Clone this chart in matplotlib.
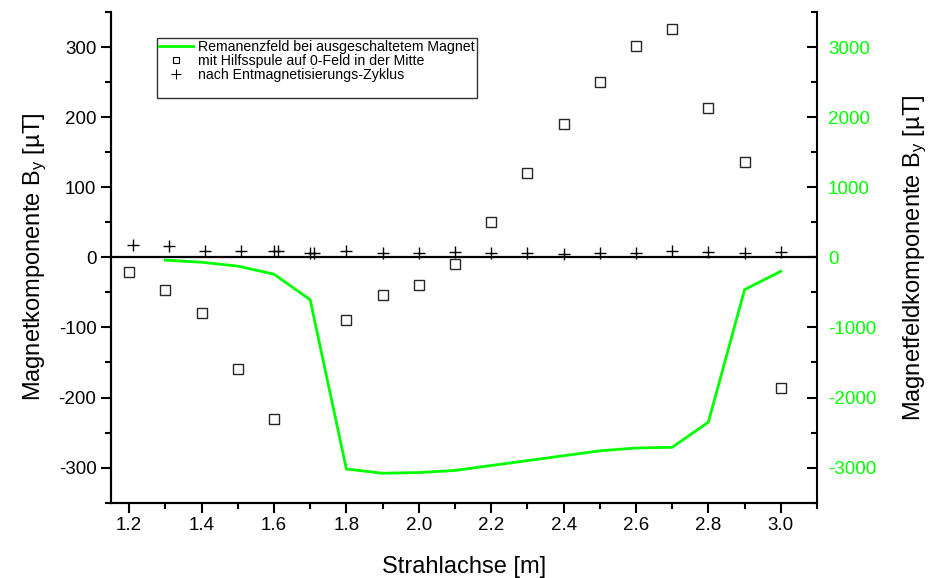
import matplotlib
matplotlib.use("Agg")
import matplotlib.pyplot as plt
from matplotlib.ticker import MultipleLocator
from matplotlib.lines import Line2D

plt.rcParams["font.family"] = ["Liberation Sans", "DejaVu Sans"]
plt.rcParams["mathtext.default"] = "regular"
plt.rcParams["axes.unicode_minus"] = False

# Remanenzfeld bei ausgeschaltetem Magnet (right axis, uT)
rem_x = [1.3, 1.4, 1.5, 1.6, 1.7, 1.8, 1.9, 2.0, 2.1, 2.2, 2.3, 2.4, 2.5, 2.6, 2.7, 2.8, 2.9, 3.0]
rem_y = [-40, -70, -125, -240, -605, -3020, -3080, -3070, -3040, -2970, -2900, -2830,
         -2760, -2720, -2710, -2350, -460, -200]

# mit Hilfsspule auf 0-Feld in der Mitte (left axis, uT)
hs_x = [1.2, 1.3, 1.4, 1.5, 1.6, 1.8, 1.9, 2.0, 2.1, 2.2, 2.3, 2.4, 2.5, 2.6, 2.7, 2.8, 2.9, 3.0]
hs_y = [-21, -47, -80, -160, -230, -90, -54, -40, -10, 50, 120, 190, 250, 301, 326, 213, 136, -186]

# nach Entmagnetisierungs-Zyklus (left axis, uT)
em_x = [1.21, 1.31, 1.41, 1.51, 1.60, 1.61, 1.70, 1.71, 1.80, 1.90, 2.00, 2.10, 2.20,
        2.30, 2.40, 2.50, 2.60, 2.70, 2.80, 2.90, 3.00]
em_y = [17, 16, 9, 9, 9, 9, 6, 6, 9, 6, 6, 7, 6, 6, 5, 6, 6, 9, 7, 6, 7]

GREEN = "#00ff00"

fig = plt.figure(figsize=(9.3, 5.78), dpi=100)
ax = fig.add_axes([0.1194, 0.1303, 0.7591, 0.8490])
ax2 = ax.twinx()

ax.axhline(0, color="k", lw=1.6, zorder=1)
ax.plot(hs_x, hs_y, ls="none", marker="s", ms=7, mfc="none", mec="0.15", mew=1.0)
ax.plot(em_x, em_y, ls="none", marker="+", ms=9, mec="k", mew=1.0)
ax2.plot(rem_x, rem_y, color=GREEN, lw=2)

ax.set_xlim(1.15, 3.1)
ax.set_ylim(-350, 350)
ax2.set_ylim(-3500, 3500)

ax.xaxis.set_major_locator(MultipleLocator(0.2))
ax.xaxis.set_minor_locator(MultipleLocator(0.1))
ax.yaxis.set_major_locator(MultipleLocator(100))
ax.yaxis.set_minor_locator(MultipleLocator(50))
ax2.yaxis.set_major_locator(MultipleLocator(1000))
ax2.yaxis.set_minor_locator(MultipleLocator(500))
ax.xaxis.set_major_formatter(plt.FuncFormatter(lambda v, p: f"{v:.1f}"))

for a in (ax, ax2):
    a.spines["top"].set_visible(False)
    for s in a.spines.values():
        s.set_linewidth(1.5)
ax.spines["right"].set_visible(False)

ax.tick_params(which="major", direction="out", length=7, width=1.5, labelsize=13.5)
ax.tick_params(which="minor", direction="out", length=4, width=1.5)
ax2.tick_params(which="major", direction="in", length=7, width=1.5, labelsize=13.5,
                labelcolor=GREEN, pad=8)
ax2.tick_params(which="minor", direction="in", length=4, width=1.5)

ax.set_xlabel("Strahlachse [m]", fontsize=17, labelpad=16)
ax.set_ylabel("Magnetkomponente B$_y$ [µT]", fontsize=17, labelpad=7)
ax2.set_ylabel("Magnetfeldkomponente B$_y$ [µT]", fontsize=17, labelpad=18)

handles = [
    Line2D([], [], color=GREEN, lw=2),
    Line2D([], [], ls="none", marker="s", ms=5, mfc="none", mec="k", mew=0.8),
    Line2D([], [], ls="none", marker="+", ms=7, mec="k", mew=0.8),
    Line2D([], [], ls="none"),
]
labels = ["Remanenzfeld bei ausgeschaltetem Magnet",
          "mit Hilfsspule auf 0-Feld in der Mitte",
          "nach Entmagnetisierungs-Zyklus",
          " "]
leg = ax2.legend(handles, labels, loc="upper left", bbox_to_anchor=(0.065, 0.947),
                 fontsize=10.2, frameon=True, fancybox=False, borderpad=0.15,
                 labelspacing=0.0, handlelength=2.4, handletextpad=0.35,
                 borderaxespad=0, handleheight=0.6)
leg.get_frame().set_edgecolor("k")
leg.get_frame().set_linewidth(1.0)

fig.savefig("out.png", dpi=100)
